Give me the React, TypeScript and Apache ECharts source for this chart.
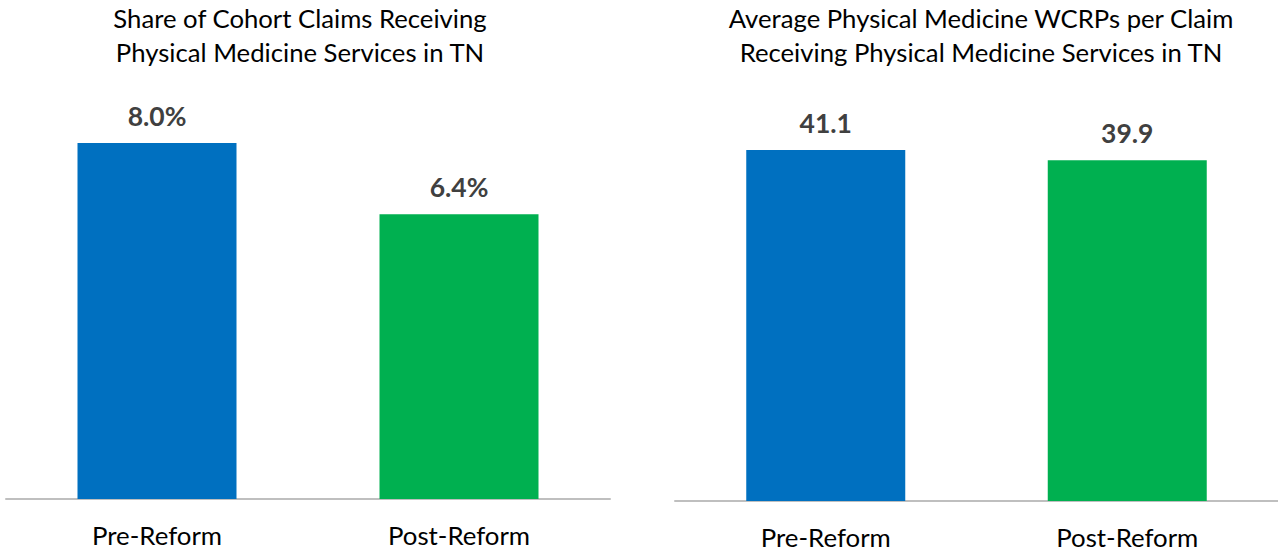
import React, { useEffect, useRef } from "react";
import * as echarts from "echarts";

const categories = ["Pre-Reform", "Post-Reform"];
const shareValues = [8.0, 6.4];
const wcrpValues = [41.1, 39.9];
const barColors = ["#0070C0", "#00B050"];
const leftTitle = "Share of Cohort Claims Receiving\nPhysical Medicine Services in TN";
const rightTitle = "Average Physical Medicine WCRPs per Claim\nReceiving Physical Medicine Services in TN";

const FONT = "Lato";

export default function App() {
  const ref = useRef<HTMLDivElement>(null);
  useEffect(() => {
    if (!ref.current) return;
    const chart = echarts.init(ref.current, null, { renderer: "svg" });
    const catAxis = (gridIndex: number) => ({
      type: "category",
      gridIndex,
      data: categories,
      axisTick: { show: false },
      axisLine: { show: true, lineStyle: { color: "#BFBFBF", width: 2 } },
      axisLabel: { color: "#000", fontSize: 25.8, fontFamily: FONT, margin: 23 },
    });
    const valAxis = (gridIndex: number, max: number) => ({
      type: "value",
      gridIndex,
      min: 0,
      max,
      show: false,
      splitLine: { show: false },
    });
    const barSeries = (idx: number, values: number[], fmt: (v: number) => string) => ({
      type: "bar",
      xAxisIndex: idx,
      yAxisIndex: idx,
      barWidth: 159,
      data: values.map((v, i) => ({ value: v, itemStyle: { color: barColors[i] } })),
      label: {
        show: true,
        position: "top",
        distance: 14,
        color: "#404040",
        fontSize: 26.5,
        fontWeight: "bold",
        fontFamily: FONT,
        formatter: (p: any) => fmt(p.value),
      },
    });
    const titleStyle = { fontSize: 25.7, fontWeight: "normal", color: "#000", fontFamily: FONT, lineHeight: 34 };
    chart.setOption({
      animation: false,
      title: [
        { text: leftTitle, left: 300, top: 1, padding: 0, textAlign: "center", textStyle: titleStyle },
        { text: rightTitle, left: 981, top: 1, padding: 0, textAlign: "center", textStyle: titleStyle },
      ],
      grid: [
        { left: 6, width: 604, top: 98.5, bottom: 53 },
        { left: 675, width: 603, top: 116.7, bottom: 51 },
      ],
      xAxis: [catAxis(0), catAxis(1)],
      yAxis: [valAxis(0, 9), valAxis(1, 45)],
      series: [
        barSeries(0, shareValues, (v) => v.toFixed(1) + "%"),
        barSeries(1, wcrpValues, (v) => v.toFixed(1)),
      ],
    });
    return () => chart.dispose();
  }, []);
  return (
    <div
      ref={ref}
      style={{ position: "fixed", left: 0, top: 0, width: 1278, height: 552, background: "#fff" }}
    />
  );
}
